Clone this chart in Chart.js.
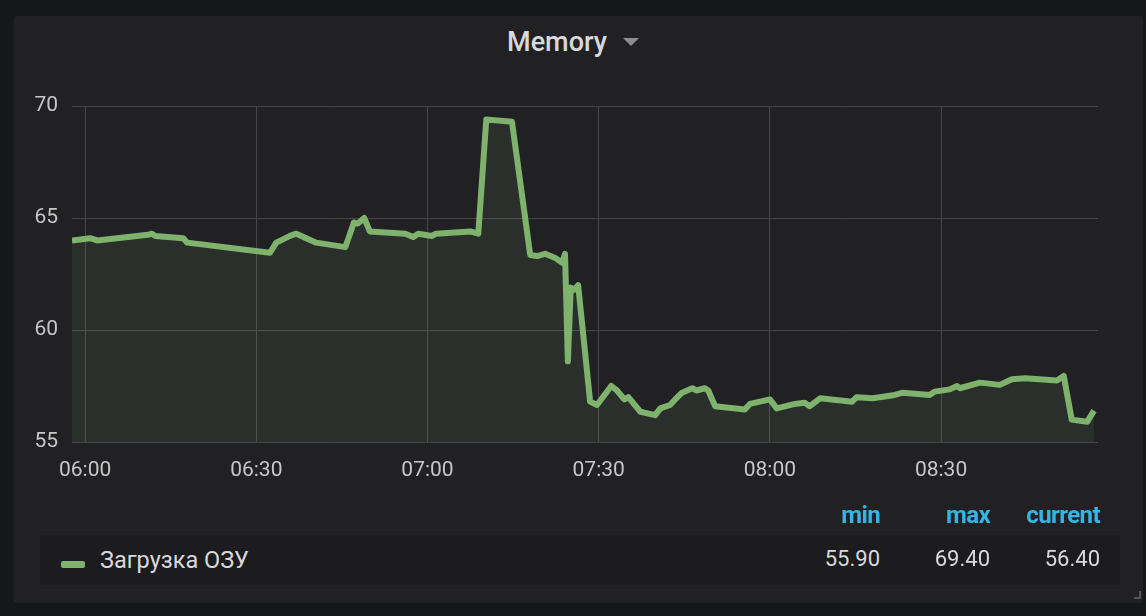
<!DOCTYPE html>
<html>
<head>
<meta charset="utf-8">
<script src="https://cdn.jsdelivr.net/npm/chart.js@4"></script>
<style>
  html, body { margin: 0; padding: 0; background: #161719; width: 1146px; height: 616px; overflow: hidden; }
  body { font-family: Roboto, "Noto Sans", sans-serif; position: relative; }
  #panel { position: absolute; left: 14px; top: 16px; width: 1129px; height: 587px; background: #212124; border-radius: 3px; }
  #title { position: absolute; left: 0; top: 26px; width: 1146px; text-align: center; color: #d8d9da; font-size: 27px; font-weight: 500; }
  #title .caret { display: inline-block; width: 0; height: 0; border-left: 8px solid transparent; border-right: 8px solid transparent; border-top: 8px solid #8e8e8e; margin-left: 16px; vertical-align: middle; position: relative; top: -2px; }
  #chart { position: absolute; left: 0; top: 0; }
  .hdr { position: absolute; top: 501px; color: #33b5e5; font-size: 24px; font-weight: 700; text-align: right; letter-spacing: -0.6px; }
  #row { position: absolute; left: 40px; top: 535px; width: 1080px; height: 50px; background: #1c1c1f; }
  .val { position: absolute; top: 546px; color: #d8d9da; font-size: 22px; text-align: right; }
  #swatch { position: absolute; left: 61px; top: 561px; width: 24px; height: 7px; background: #7eb26d; border-radius: 2px; }
  #name { position: absolute; left: 100px; top: 546px; color: #d8d9da; font-size: 23.5px; }
  #corner { position: absolute; left: 1134px; top: 591px; width: 5px; height: 6px; border-right: 2px solid #555; border-bottom: 2px solid #555; }
</style>
</head>
<body>
<div id="panel"></div>
<div id="title">Memory<span class="caret"></span></div>
<canvas id="chart" width="1146" height="616"></canvas>
<div class="hdr" style="right:266px">min</div>
<div class="hdr" style="right:156px">max</div>
<div class="hdr" style="right:46px">current</div>
<div id="row"></div>
<div id="swatch"></div>
<div id="name">Загрузка ОЗУ</div>
<div class="val" style="right:266px">55.90</div>
<div class="val" style="right:156px">69.40</div>
<div class="val" style="right:46px">56.40</div>
<div id="corner"></div>

<script>
// minutes after 06:00
const minutes = [-2.3, 0.9, 2.1, 11.0, 11.7, 12.3, 17.2, 17.9, 32.4, 33.5, 35.9, 37.0, 40.5, 45.6, 47.1, 47.8, 48.9, 49.9,
  56.1, 57.5, 58.4, 60.8, 61.5, 67.5, 68.9, 70.3, 74.8, 78.0, 79.2, 80.6, 82.5, 83.6, 84.1, 84.6, 85.1, 85.7, 86.4,
  88.5, 89.7, 92.2, 93.2, 94.5, 95.2, 97.3, 99.9, 100.8, 102.5, 103.4, 104.6, 106.4, 107.1, 108.6, 109.2, 110.4,
  115.6, 116.5, 120.0, 121.2, 124.4, 126.1, 127.0, 128.8, 134.4, 135.2, 138.0, 141.9, 143.3, 148.0, 148.9, 151.5,
  152.8, 153.3, 156.8, 160.3, 162.4, 164.7, 170.3, 171.5, 172.9, 175.6, 176.8];
const ramUsage = [64.0, 64.1, 64.0, 64.25, 64.3, 64.2, 64.1, 63.9, 63.45, 63.9, 64.2, 64.3, 63.9, 63.7, 64.8, 64.75, 65.0, 64.4,
  64.3, 64.15, 64.3, 64.2, 64.3, 64.4, 64.3, 69.4, 69.3, 63.35, 63.3, 63.4, 63.2, 63.0, 63.4, 58.6, 61.9, 61.8, 62.0,
  56.8, 56.65, 57.5, 57.3, 56.9, 57.0, 56.35, 56.2, 56.5, 56.65, 56.9, 57.2, 57.4, 57.3, 57.4, 57.3, 56.6,
  56.45, 56.7, 56.9, 56.5, 56.7, 56.75, 56.6, 56.95, 56.8, 57.0, 56.95, 57.1, 57.2, 57.1, 57.25, 57.35,
  57.5, 57.4, 57.65, 57.55, 57.8, 57.85, 57.75, 57.95, 56.0, 55.9, 56.4];
const timeTicks = [0, 30, 60, 90, 120, 150];
const yTicks = [55, 60, 65, 70];

function fmtTime(m) {
  const total = 6 * 60 + m;
  const h = Math.floor(total / 60), mm = Math.round(total % 60);
  return String(h).padStart(2, '0') + ':' + String(mm).padStart(2, '0');
}

const labelColor = '#c7c7c7';
const gridColor = '#464648';

new Chart(document.getElementById('chart'), {
  type: 'line',
  data: {
    datasets: [{
      label: 'Загрузка ОЗУ',
      data: minutes.map((m, i) => ({ x: m, y: ramUsage[i] })),
      borderColor: '#7eb26d',
      borderWidth: 6,
      backgroundColor: 'rgba(126,178,109,0.1)',
      fill: 'start',
      pointRadius: 0,
      tension: 0,
      borderJoinStyle: 'round'
    }]
  },
  options: {
    responsive: false,
    animation: false,
    layout: { padding: { left: 0, right: 48, top: 106, bottom: 134 } },
    plugins: { legend: { display: false }, tooltip: { enabled: false } },
    scales: {
      x: {
        type: 'linear',
        min: -2.3,
        max: 177.5,
        afterBuildTicks: axis => { axis.ticks = timeTicks.map(v => ({ value: v })); },
        afterFit: axis => { axis.height = 40; },
        ticks: { color: labelColor, font: { family: 'Roboto', size: 21 }, padding: 16, maxRotation: 0, autoSkip: false,
          callback: v => fmtTime(v) },
        grid: { color: gridColor, lineWidth: 1, drawTicks: false },
        border: { display: false }
      },
      y: {
        min: 55,
        max: 70,
        afterBuildTicks: axis => { axis.ticks = yTicks.map(v => ({ value: v })); },
        afterFit: axis => { axis.width = 72; },
        ticks: { color: labelColor, font: { family: 'Roboto', size: 21 }, padding: 14 },
        grid: { color: gridColor, lineWidth: 1, drawTicks: false },
        border: { display: false }
      }
    }
  }
});
</script>
</body>
</html>
